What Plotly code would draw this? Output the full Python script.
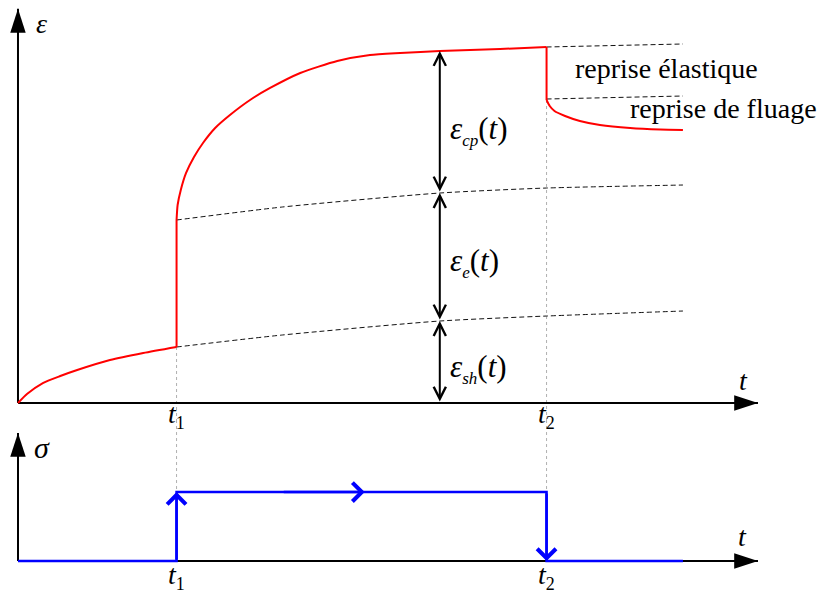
import plotly.graph_objects as go

# ---- data (time t in arbitrary units, strain eps, stress sigma) ----
T1 = 3.0
T2 = 10.0
T_END = 12.58
T_AXIS = 14.0
EPS_AXIS = 11.04
SIG_AXIS = 1.855

# total strain (red): before t1, creep after t1, recovery after t2
t_pre = [0.0, 0.17, 0.47, 0.80, 1.12, 1.74, 2.37, 3.0]
eps_pre = [0.0, 0.252, 0.560, 0.756, 0.924, 1.204, 1.401, 1.569]
t_creep = [3.0, 3.02, 3.08, 3.18, 3.33, 3.50, 3.73, 4.01, 4.39, 4.77, 5.34, 6.04, 6.66, 7.23, 7.98, 9.12, 10.0]
eps_creep = [5.126, 5.546, 5.966, 6.443, 6.891, 7.283, 7.703, 8.067, 8.487, 8.824, 9.244, 9.580, 9.748, 9.804, 9.860, 9.916, 9.972]
t_rec = [10.0, 10.06, 10.15, 10.35, 10.63, 11.01, 11.58, 12.15, 12.58]
eps_rec = [8.487, 8.319, 8.179, 8.039, 7.899, 7.787, 7.703, 7.661, 7.647]

# dashed guide lines
t_guide = [3.0, 5.0, 7.98, 10.0, 12.58]
eps_shrink = [1.569, 1.905, 2.297, 2.437, 2.577]
eps_elastic = [5.126, 5.490, 5.882, 6.022, 6.106]
t_top = [10.0, 12.58]
eps_top = [9.972, 10.056]
eps_reprise = [8.515, 8.599]

# measurement time for the component arrows
T_MEAS = 7.98
EPS_SH = 2.297
EPS_E = 5.882
EPS_CP = 9.860

# stress history (blue)
t_sig = [0.0, 3.0, 3.0, 10.0, 10.0, 12.58]
sig = [0.0, 0.0, 1.0, 1.0, 0.0, 0.0]

X_RANGE = [-0.189, 15.438]
Y_RANGE = [-0.476, 11.064]
Y2_RANGE = [-0.652, 2.043]
SPLIT = 0.311

FONT = "Liberation Serif"
RED = "#ff0000"
BLUE = "#0000ff"
DASH = "#111111"
DOT = "#b0b0b0"

fig = go.Figure()

def line(x, y, color, width, dash="solid", yaxis="y", shape="linear"):
    fig.add_trace(go.Scatter(x=x, y=y, mode="lines", yaxis=yaxis,
                             line=dict(color=color, width=width, dash=dash, shape=shape,
                                       smoothing=0.6 if shape == "spline" else None),
                             hoverinfo="skip", showlegend=False))

# dotted vertical guides
line([T1, T1], [eps_pre[-1], Y_RANGE[0]], DOT, 1, "dot")
line([T1, T1], [Y2_RANGE[1], 1.0], DOT, 1, "dot", "y2")
line([T2, T2], [eps_rec[0], Y_RANGE[0]], DOT, 1, "dot")
line([T2, T2], [Y2_RANGE[1], 1.0], DOT, 1, "dot", "y2")

# axes
line([0, T_AXIS], [0, 0], "black", 2)
line([0, 0], [0, EPS_AXIS], "black", 2)
line([0, T_AXIS], [0, 0], "black", 2, yaxis="y2")
line([0, 0], [0, SIG_AXIS], "black", 2, yaxis="y2")
fig.add_trace(go.Scatter(x=[T_AXIS, 0], y=[0, EPS_AXIS], mode="markers",
                         marker=dict(symbol="arrow", size=25, angle=[90, 0], color="black"),
                         hoverinfo="skip", showlegend=False, cliponaxis=False))
fig.add_trace(go.Scatter(x=[T_AXIS, 0], y=[0, SIG_AXIS], mode="markers", yaxis="y2",
                         marker=dict(symbol="arrow", size=25, angle=[90, 0], color="black"),
                         hoverinfo="skip", showlegend=False, cliponaxis=False))

# dashed guides
line(t_guide, eps_shrink, DASH, 1, "5px,3px", shape="spline")
line(t_guide, eps_elastic, DASH, 1, "5px,3px", shape="spline")
line(t_top, eps_top, DASH, 1, "5px,3px")
line(t_top, eps_reprise, DASH, 1, "5px,3px")

# red strain curve: smooth pieces joined by the instantaneous jumps
line(t_pre, eps_pre, RED, 2, shape="spline")
line([t_pre[-1], t_creep[0]], [eps_pre[-1], eps_creep[0]], RED, 2)
line(t_creep, eps_creep, RED, 2, shape="spline")
line([t_creep[-1], t_rec[0]], [eps_creep[-1], eps_rec[0]], RED, 2)
line(t_rec, eps_rec, RED, 2, shape="spline")

# blue stress
line(t_sig, sig, BLUE, 2.5, yaxis="y2")

ann = []
# black double-headed arrows
for lo, hi in [(0.0, EPS_SH), (EPS_SH, EPS_E), (EPS_E, EPS_CP)]:
    ann.append(dict(x=T_MEAS, y=hi, ax=T_MEAS, ay=lo, xref="x", yref="y", axref="x", ayref="y",
                    text="", showarrow=True, arrowside="end+start",
                    arrowhead=5, startarrowhead=5, arrowsize=1.2, startarrowsize=1.2,
                    arrowwidth=2, arrowcolor="black"))
# blue arrows
for x, y, ax, ay in [(T1, 1.0, T1, 0.0), (6.56, 1.0, 5.0, 1.0), (T2, 0.0, T2, 1.0)]:
    ann.append(dict(x=x, y=y, ax=ax, ay=ay, xref="x", yref="y2", axref="x", ayref="y2",
                    text="", showarrow=True, arrowhead=4, arrowsize=1.45,
                    arrowwidth=2.5, arrowcolor=BLUE))

def text(x, y, s, size=28, yref="y", xanchor="center"):
    ann.append(dict(x=x, y=y, xref="x", yref=yref, text=s, showarrow=False,
                    xanchor=xanchor, yanchor="middle",
                    font=dict(family=FONT, size=size, color="black")))

def sub(s, size):
    return '<sub><span style="font-size:%dpx">%s</span></sub>' % (size, s)

text(8.135, 7.647, "<i>ε</i>" + sub("<i>cp</i>", 17) + "(<i>t</i>)", size=31, xanchor="left")
text(8.135, 3.95, "<i>ε</i>" + sub("<i>e</i>", 17) + "(<i>t</i>)", size=31, xanchor="left")
text(8.135, 0.98, "<i>ε</i>" + sub("<i>sh</i>", 17) + "(<i>t</i>)", size=31, xanchor="left")
text(T1, -0.36, "<i>t</i>" + sub("1", 18))
text(T2, -0.36, "<i>t</i>" + sub("2", 18))
text(T1, -0.22, "<i>t</i>" + sub("1", 18), yref="y2")
text(T2, -0.22, "<i>t</i>" + sub("2", 18), yref="y2")
text(0.454, 10.62, "<i>ε</i>", size=28)
text(0.454, 1.652, "<i>σ</i>", size=30, yref="y2")
text(13.73, 0.644, "<i>t</i>")
text(13.70, 0.348, "<i>t</i>", yref="y2")
text(10.50, 9.38, "reprise élastique", size=28, xanchor="left")
text(11.55, 8.26, "reprise de fluage", size=28, xanchor="left")

fig.update_layout(
    width=826, height=598, margin=dict(l=0, r=0, t=0, b=0),
    paper_bgcolor="white", plot_bgcolor="white", showlegend=False,
    xaxis=dict(range=X_RANGE, visible=False, fixedrange=True),
    yaxis=dict(range=Y_RANGE, domain=[SPLIT, 1], visible=False),
    yaxis2=dict(range=Y2_RANGE, domain=[0, SPLIT], visible=False, anchor="x"),
    annotations=ann,
)
fig.write_html("out.html")
